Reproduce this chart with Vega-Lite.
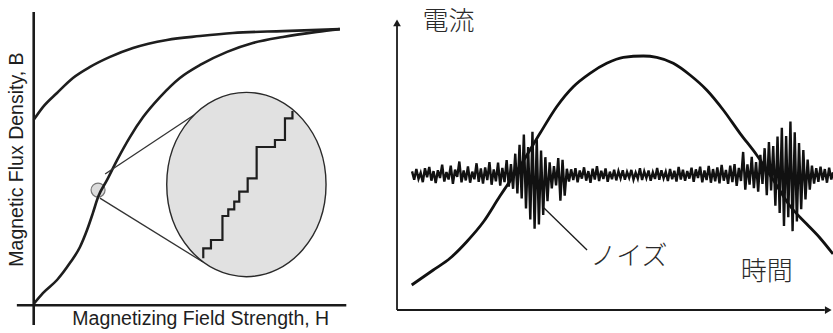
{
  "$schema": "https://vega.github.io/schema/vega-lite/v6.json",
  "background": "white",
  "padding": 0,
  "spacing": 10,
  "config": {"view": {"stroke": null}},
  "datasets": {
    "leftAxes": [
      {"h": 0, "b": -7.1, "h2": 0, "b2": 105.7},
      {"h": -5.5, "b": 0, "h2": 102, "b2": 0}
    ],
    "zoomLines": [
      {"h": 23.3, "b": 47.3, "h2": 53.3, "b2": 69.3},
      {"h": 21.6, "b": 38.6, "h2": 55.2, "b2": 15.6}
    ],
    "smallCircle": [{"h": 21.0, "b": 41.5}],
    "ellipse": [{"h": 69.4, "b": 43.5}],
    "bh": [
      {"curve": "upper", "i": 0, "h": 0, "b": 66.8},
      {"curve": "upper", "i": 1, "h": 3.0, "b": 71.4},
      {"curve": "upper", "i": 2, "h": 7.6, "b": 76.5},
      {"curve": "upper", "i": 3, "h": 12.8, "b": 81.9},
      {"curve": "upper", "i": 4, "h": 18.4, "b": 85.9},
      {"curve": "upper", "i": 5, "h": 24.9, "b": 89.5},
      {"curve": "upper", "i": 6, "h": 32.4, "b": 92.7},
      {"curve": "upper", "i": 7, "h": 43.5, "b": 95.6},
      {"curve": "upper", "i": 8, "h": 54.3, "b": 97.0},
      {"curve": "upper", "i": 9, "h": 65.0, "b": 98.1},
      {"curve": "upper", "i": 10, "h": 81.3, "b": 98.8},
      {"curve": "upper", "i": 11, "h": 99.9, "b": 99.5},
      {"curve": "lower", "i": 0, "h": 0, "b": 0.5},
      {"curve": "lower", "i": 1, "h": 3.0, "b": 4.4},
      {"curve": "lower", "i": 2, "h": 7.6, "b": 9.1},
      {"curve": "lower", "i": 3, "h": 11.8, "b": 15.2},
      {"curve": "lower", "i": 4, "h": 15.1, "b": 21.0},
      {"curve": "lower", "i": 5, "h": 17.4, "b": 27.1},
      {"curve": "lower", "i": 6, "h": 19.3, "b": 33.2},
      {"curve": "lower", "i": 7, "h": 21.0, "b": 39.0},
      {"curve": "lower", "i": 8, "h": 23.9, "b": 45.1},
      {"curve": "lower", "i": 9, "h": 27.2, "b": 52.3},
      {"curve": "lower", "i": 10, "h": 31.4, "b": 60.6},
      {"curve": "lower", "i": 11, "h": 35.7, "b": 67.8},
      {"curve": "lower", "i": 12, "h": 41.2, "b": 75.0},
      {"curve": "lower", "i": 13, "h": 47.7, "b": 81.9},
      {"curve": "lower", "i": 14, "h": 54.3, "b": 86.6},
      {"curve": "lower", "i": 15, "h": 63.1, "b": 91.3},
      {"curve": "lower", "i": 16, "h": 71.5, "b": 94.5},
      {"curve": "lower", "i": 17, "h": 81.3, "b": 96.7},
      {"curve": "lower", "i": 18, "h": 92.4, "b": 98.5},
      {"curve": "lower", "i": 19, "h": 99.9, "b": 99.5}
    ],
    "stairs": [
      {"i": 0, "h": 55.33, "b": 16.92},
      {"i": 1, "h": 55.33, "b": 20.52},
      {"i": 2, "h": 57.84, "b": 20.52},
      {"i": 3, "h": 57.84, "b": 23.51},
      {"i": 4, "h": 61.59, "b": 23.51},
      {"i": 5, "h": 61.59, "b": 32.16},
      {"i": 6, "h": 63.49, "b": 32.16},
      {"i": 7, "h": 63.49, "b": 34.58},
      {"i": 8, "h": 65.44, "b": 34.58},
      {"i": 9, "h": 65.44, "b": 37.32},
      {"i": 10, "h": 67.07, "b": 37.32},
      {"i": 11, "h": 67.07, "b": 40.92},
      {"i": 12, "h": 69.82, "b": 40.92},
      {"i": 13, "h": 69.82, "b": 45.75},
      {"i": 14, "h": 72.75, "b": 45.75},
      {"i": 15, "h": 72.75, "b": 57.03},
      {"i": 16, "h": 78.72, "b": 57.03},
      {"i": 17, "h": 78.72, "b": 59.55},
      {"i": 18, "h": 81.99, "b": 59.55},
      {"i": 19, "h": 81.99, "b": 67.37},
      {"i": 20, "h": 84.43, "b": 67.37},
      {"i": 21, "h": 84.43, "b": 70.0}
    ],
    "leftLabels": [
      {"axis": "H", "label": "Magnetizing Field Strength, H", "h": 54.5, "b": -5.0},
      {"axis": "B", "label": "Magnetic Flux Density, B", "h": -5.4, "b": 52.5}
    ],
    "rightAxes": [
      {"t": 0, "i": 0, "t2": 0, "i2": 98.5},
      {"t": 0, "i": 0, "t2": 99.5, "i2": 0}
    ],
    "arrowUp": [{"t": 0, "i": 99.0}],
    "arrowRight": [{"t": 100.3, "i": 0}],
    "current": [
      {"t": 3.42, "i": 8.62},
      {"t": 8.44, "i": 13.79},
      {"t": 12.33, "i": 17.83},
      {"t": 16.21, "i": 23.55},
      {"t": 20.07, "i": 30.34},
      {"t": 23.95, "i": 39.31},
      {"t": 25.51, "i": 42.76},
      {"t": 29.37, "i": 51.38},
      {"t": 33.26, "i": 60.93},
      {"t": 37.14, "i": 70.1},
      {"t": 41.0, "i": 77.0},
      {"t": 44.88, "i": 81.62},
      {"t": 48.77, "i": 85.07},
      {"t": 52.63, "i": 87.14},
      {"t": 57.28, "i": 87.59},
      {"t": 60.4, "i": 87.14},
      {"t": 64.26, "i": 85.07},
      {"t": 68.14, "i": 81.03},
      {"t": 72.02, "i": 75.86},
      {"t": 75.88, "i": 68.97},
      {"t": 79.77, "i": 60.93},
      {"t": 83.65, "i": 53.45},
      {"t": 87.51, "i": 44.83},
      {"t": 91.4, "i": 35.86},
      {"t": 95.28, "i": 29.66},
      {"t": 98.37, "i": 24.83},
      {"t": 101.4, "i": 19.31}
    ],
    "noise": [
      {"t": 3.5, "i": 47.8}, {"t": 4.0, "i": 44.9}, {"t": 4.5, "i": 48.6}, {"t": 5.0, "i": 45.2},
      {"t": 5.5, "i": 47.3}, {"t": 6.0, "i": 44.1}, {"t": 6.5, "i": 48.9}, {"t": 7.0, "i": 45.8},
      {"t": 7.5, "i": 49.3}, {"t": 8.0, "i": 44.6}, {"t": 8.5, "i": 47.9}, {"t": 9.0, "i": 43.8},
      {"t": 9.5, "i": 48.2}, {"t": 10.0, "i": 45.5}, {"t": 10.5, "i": 50.1}, {"t": 11.0, "i": 44.3},
      {"t": 11.5, "i": 47.6}, {"t": 12.0, "i": 45.0}, {"t": 12.5, "i": 49.8}, {"t": 13.0, "i": 43.5},
      {"t": 13.5, "i": 48.4}, {"t": 14.0, "i": 45.9}, {"t": 14.5, "i": 51.2}, {"t": 15.0, "i": 44.0},
      {"t": 15.5, "i": 48.1}, {"t": 16.0, "i": 44.7}, {"t": 16.5, "i": 49.5}, {"t": 17.0, "i": 43.9},
      {"t": 17.5, "i": 47.7}, {"t": 18.0, "i": 45.1}, {"t": 18.5, "i": 50.6}, {"t": 19.0, "i": 44.2},
      {"t": 19.5, "i": 48.8}, {"t": 20.0, "i": 43.6}, {"t": 20.5, "i": 49.2}, {"t": 21.0, "i": 44.8},
      {"t": 21.5, "i": 51.0}, {"t": 22.0, "i": 43.2}, {"t": 22.5, "i": 48.5}, {"t": 23.0, "i": 44.4},
      {"t": 23.5, "i": 50.8}, {"t": 24.0, "i": 42.9}, {"t": 24.5, "i": 49.0}, {"t": 25.0, "i": 44.1},
      {"t": 25.5, "i": 51.7}, {"t": 26.0, "i": 42.5}, {"t": 26.5, "i": 50.3}, {"t": 27.0, "i": 41.8},
      {"t": 27.5, "i": 53.9}, {"t": 28.0, "i": 40.2}, {"t": 28.5, "i": 57.0}, {"t": 29.0, "i": 38.5},
      {"t": 29.5, "i": 60.5}, {"t": 30.0, "i": 35.0}, {"t": 30.5, "i": 56.2}, {"t": 31.0, "i": 31.2},
      {"t": 31.5, "i": 61.5}, {"t": 32.0, "i": 28.0}, {"t": 32.5, "i": 58.8}, {"t": 33.0, "i": 29.5},
      {"t": 33.5, "i": 55.0}, {"t": 34.0, "i": 32.8}, {"t": 34.5, "i": 52.7}, {"t": 35.0, "i": 37.5},
      {"t": 35.5, "i": 50.9}, {"t": 36.0, "i": 41.9}, {"t": 36.5, "i": 49.6}, {"t": 37.0, "i": 43.0},
      {"t": 37.5, "i": 52.4}, {"t": 38.0, "i": 37.7}, {"t": 38.5, "i": 51.8}, {"t": 39.0, "i": 39.4},
      {"t": 39.5, "i": 48.7}, {"t": 40.0, "i": 44.3}, {"t": 40.5, "i": 48.5}, {"t": 41.0, "i": 44.8},
      {"t": 41.5, "i": 48.9}, {"t": 42.0, "i": 44.0}, {"t": 42.5, "i": 48.1}, {"t": 43.0, "i": 45.3},
      {"t": 43.5, "i": 49.2}, {"t": 44.0, "i": 44.6}, {"t": 44.5, "i": 47.9}, {"t": 45.0, "i": 43.9},
      {"t": 45.5, "i": 48.7}, {"t": 46.0, "i": 45.0}, {"t": 46.5, "i": 49.6}, {"t": 47.0, "i": 44.5},
      {"t": 47.5, "i": 48.0}, {"t": 48.0, "i": 45.2}, {"t": 48.5, "i": 48.8}, {"t": 49.0, "i": 44.2},
      {"t": 49.5, "i": 47.7}, {"t": 50.0, "i": 45.1}, {"t": 50.5, "i": 48.4}, {"t": 51.0, "i": 44.7},
      {"t": 51.5, "i": 47.9}, {"t": 52.0, "i": 45.4}, {"t": 52.5, "i": 48.2}, {"t": 53.0, "i": 44.9},
      {"t": 53.5, "i": 47.6}, {"t": 54.0, "i": 45.6}, {"t": 54.5, "i": 48.3}, {"t": 55.0, "i": 45.0},
      {"t": 55.5, "i": 47.4}, {"t": 56.0, "i": 45.3}, {"t": 56.5, "i": 48.9}, {"t": 57.0, "i": 44.8},
      {"t": 57.5, "i": 47.8}, {"t": 58.0, "i": 45.5}, {"t": 58.5, "i": 48.1}, {"t": 59.0, "i": 44.6},
      {"t": 59.5, "i": 47.5}, {"t": 60.0, "i": 45.2}, {"t": 60.5, "i": 49.0}, {"t": 61.0, "i": 44.9},
      {"t": 61.5, "i": 48.2}, {"t": 62.0, "i": 45.4}, {"t": 62.5, "i": 47.7}, {"t": 63.0, "i": 44.5},
      {"t": 63.5, "i": 48.6}, {"t": 64.0, "i": 45.1}, {"t": 64.5, "i": 48.0}, {"t": 65.0, "i": 44.3},
      {"t": 65.5, "i": 49.3}, {"t": 66.0, "i": 45.0}, {"t": 66.5, "i": 48.4}, {"t": 67.0, "i": 44.6},
      {"t": 67.5, "i": 47.9}, {"t": 68.0, "i": 45.3}, {"t": 68.5, "i": 49.1}, {"t": 69.0, "i": 44.2},
      {"t": 69.5, "i": 48.5}, {"t": 70.0, "i": 45.5}, {"t": 70.5, "i": 49.4}, {"t": 71.0, "i": 44.0},
      {"t": 71.5, "i": 48.1}, {"t": 72.0, "i": 44.8}, {"t": 72.5, "i": 49.7}, {"t": 73.0, "i": 43.9},
      {"t": 73.5, "i": 48.6}, {"t": 74.0, "i": 44.4}, {"t": 74.5, "i": 49.2}, {"t": 75.0, "i": 43.7},
      {"t": 75.5, "i": 50.0}, {"t": 76.0, "i": 44.6}, {"t": 76.5, "i": 48.3}, {"t": 77.0, "i": 43.5},
      {"t": 77.5, "i": 49.8}, {"t": 78.0, "i": 44.1}, {"t": 78.5, "i": 50.3}, {"t": 79.0, "i": 42.8},
      {"t": 79.5, "i": 49.0}, {"t": 80.0, "i": 44.5}, {"t": 80.5, "i": 54.5}, {"t": 81.0, "i": 41.5},
      {"t": 81.5, "i": 50.2}, {"t": 82.0, "i": 43.2}, {"t": 82.5, "i": 52.8}, {"t": 83.0, "i": 42.0},
      {"t": 83.5, "i": 51.0}, {"t": 84.0, "i": 40.8}, {"t": 84.5, "i": 53.5}, {"t": 85.0, "i": 43.5},
      {"t": 85.5, "i": 55.8}, {"t": 86.0, "i": 39.6}, {"t": 86.5, "i": 57.9}, {"t": 87.0, "i": 41.2},
      {"t": 87.5, "i": 56.5}, {"t": 88.0, "i": 36.0}, {"t": 88.5, "i": 59.8}, {"t": 89.0, "i": 33.5},
      {"t": 89.5, "i": 62.8}, {"t": 90.0, "i": 29.0}, {"t": 90.5, "i": 60.0}, {"t": 91.0, "i": 32.0},
      {"t": 91.5, "i": 65.0}, {"t": 92.0, "i": 27.2}, {"t": 92.5, "i": 61.3}, {"t": 93.0, "i": 30.5},
      {"t": 93.5, "i": 57.6}, {"t": 94.0, "i": 34.8}, {"t": 94.5, "i": 55.2}, {"t": 95.0, "i": 38.1},
      {"t": 95.5, "i": 51.9}, {"t": 96.0, "i": 41.5}, {"t": 96.5, "i": 49.8}, {"t": 97.0, "i": 43.6},
      {"t": 97.5, "i": 48.9}, {"t": 98.0, "i": 44.2}, {"t": 98.5, "i": 49.4}, {"t": 99.0, "i": 44.7},
      {"t": 99.5, "i": 48.6}, {"t": 100.0, "i": 43.9}, {"t": 100.5, "i": 49.1}, {"t": 101.0, "i": 45.0},
      {"t": 101.4, "i": 47.5}
    ],
    "leader": [{"t": 33.95, "i": 35.5, "t2": 44.2, "i2": 20.7}],
    "rightLabels": [
      {"label": "電流", "t": 11.98, "i": 99.3},
      {"label": "ノイズ", "t": 53.95, "i": 18.3},
      {"label": "時間", "t": 85.98, "i": 13.1}
    ]
  },
  "hconcat": [
    {
      "width": 380,
      "height": 333,
      "layer": [
        {
          "data": {"name": "smallCircle"},
          "mark": {"type": "point", "shape": "circle", "size": 196, "filled": true, "fill": "#dcdcdc", "stroke": "#777777", "strokeWidth": 1.2, "opacity": 1},
          "encoding": {
            "x": {"field": "h", "type": "quantitative", "scale": {"domain": [-11, 113], "nice": false, "zero": false}, "axis": null},
            "y": {"field": "b", "type": "quantitative", "scale": {"domain": [-10, 110], "nice": false, "zero": false}, "axis": null}
          }
        },
        {
          "data": {"name": "leftAxes"},
          "mark": {"type": "rule", "color": "#1a1a1a", "strokeWidth": 2.6},
          "encoding": {
            "x": {"field": "h", "type": "quantitative", "scale": {"domain": [-11, 113], "nice": false, "zero": false}, "axis": null},
            "y": {"field": "b", "type": "quantitative", "scale": {"domain": [-10, 110], "nice": false, "zero": false}, "axis": null},
            "x2": {"field": "h2"},
            "y2": {"field": "b2"}
          }
        },
        {
          "data": {"name": "bh"},
          "mark": {"type": "line", "interpolate": "monotone", "color": "#1e1e1e", "strokeWidth": 2.6},
          "encoding": {
            "x": {"field": "h", "type": "quantitative", "scale": {"domain": [-11, 113], "nice": false, "zero": false}, "axis": null},
            "y": {"field": "b", "type": "quantitative", "scale": {"domain": [-10, 110], "nice": false, "zero": false}, "axis": null},
            "detail": {"field": "curve", "type": "nominal"},
            "order": {"field": "i", "type": "quantitative"}
          }
        },
        {
          "data": {"name": "zoomLines"},
          "mark": {"type": "rule", "color": "#333333", "strokeWidth": 1.3},
          "encoding": {
            "x": {"field": "h", "type": "quantitative", "scale": {"domain": [-11, 113], "nice": false, "zero": false}, "axis": null},
            "y": {"field": "b", "type": "quantitative", "scale": {"domain": [-10, 110], "nice": false, "zero": false}, "axis": null},
            "x2": {"field": "h2"},
            "y2": {"field": "b2"}
          }
        },
        {
          "data": {"name": "ellipse"},
          "mark": {"type": "point", "shape": "M0.864,0C0.864,0.552,0.477,1,0,1C-0.477,1,-0.864,0.552,-0.864,0C-0.864,-0.552,-0.477,-1,0,-1C0.477,-1,0.864,-0.552,0.864,0Z", "size": 34000, "filled": true, "fill": "#e1e1e1", "stroke": "#2a2a2a", "strokeWidth": 1.4, "opacity": 1},
          "encoding": {
            "x": {"field": "h", "type": "quantitative", "scale": {"domain": [-11, 113], "nice": false, "zero": false}, "axis": null},
            "y": {"field": "b", "type": "quantitative", "scale": {"domain": [-10, 110], "nice": false, "zero": false}, "axis": null}
          }
        },
        {
          "data": {"name": "stairs"},
          "mark": {"type": "line", "interpolate": "linear", "color": "#1e1e1e", "strokeWidth": 2.2},
          "encoding": {
            "x": {"field": "h", "type": "quantitative", "scale": {"domain": [-11, 113], "nice": false, "zero": false}, "axis": null},
            "y": {"field": "b", "type": "quantitative", "scale": {"domain": [-10, 110], "nice": false, "zero": false}, "axis": null},
            "order": {"field": "i", "type": "quantitative"}
          }
        },
        {
          "data": {"name": "leftLabels"},
          "transform": [{"filter": "datum.axis == 'H'"}],
          "mark": {"type": "text", "font": "Liberation Sans", "fontSize": 19.5, "color": "#1e1e1e", "align": "center", "baseline": "middle"},
          "encoding": {
            "x": {"field": "h", "type": "quantitative", "scale": {"domain": [-11, 113], "nice": false, "zero": false}, "axis": null},
            "y": {"field": "b", "type": "quantitative", "scale": {"domain": [-10, 110], "nice": false, "zero": false}, "axis": null},
            "text": {"field": "label"}
          }
        },
        {
          "data": {"name": "leftLabels"},
          "transform": [{"filter": "datum.axis == 'B'"}],
          "mark": {"type": "text", "font": "Liberation Sans", "fontSize": 19.5, "color": "#1e1e1e", "align": "center", "baseline": "middle", "angle": 270},
          "encoding": {
            "x": {"field": "h", "type": "quantitative", "scale": {"domain": [-11, 113], "nice": false, "zero": false}, "axis": null},
            "y": {"field": "b", "type": "quantitative", "scale": {"domain": [-10, 110], "nice": false, "zero": false}, "axis": null},
            "text": {"field": "label"}
          }
        }
      ]
    },
    {
      "width": 443,
      "height": 333,
      "layer": [
        {
          "data": {"name": "rightAxes"},
          "mark": {"type": "rule", "color": "#1a1a1a", "strokeWidth": 1.8},
          "encoding": {
            "x": {"field": "t", "type": "quantitative", "scale": {"domain": [-1.63, 101.4], "nice": false, "zero": false}, "axis": null},
            "y": {"field": "i", "type": "quantitative", "scale": {"domain": [-7.93, 106.9], "nice": false, "zero": false}, "axis": null},
            "x2": {"field": "t2"},
            "y2": {"field": "i2"}
          }
        },
        {
          "data": {"name": "arrowUp"},
          "mark": {"type": "point", "shape": "triangle-up", "size": 60, "filled": true, "color": "#1a1a1a", "opacity": 1},
          "encoding": {
            "x": {"field": "t", "type": "quantitative", "scale": {"domain": [-1.63, 101.4], "nice": false, "zero": false}, "axis": null},
            "y": {"field": "i", "type": "quantitative", "scale": {"domain": [-7.93, 106.9], "nice": false, "zero": false}, "axis": null}
          }
        },
        {
          "data": {"name": "arrowRight"},
          "mark": {"type": "point", "shape": "triangle-right", "size": 60, "filled": true, "color": "#1a1a1a", "opacity": 1},
          "encoding": {
            "x": {"field": "t", "type": "quantitative", "scale": {"domain": [-1.63, 101.4], "nice": false, "zero": false}, "axis": null},
            "y": {"field": "i", "type": "quantitative", "scale": {"domain": [-7.93, 106.9], "nice": false, "zero": false}, "axis": null}
          }
        },
        {
          "data": {"name": "current"},
          "mark": {"type": "line", "interpolate": "monotone", "color": "#111111", "strokeWidth": 2.8},
          "encoding": {
            "x": {"field": "t", "type": "quantitative", "scale": {"domain": [-1.63, 101.4], "nice": false, "zero": false}, "axis": null},
            "y": {"field": "i", "type": "quantitative", "scale": {"domain": [-7.93, 106.9], "nice": false, "zero": false}, "axis": null}
          }
        },
        {
          "data": {"name": "noise"},
          "mark": {"type": "line", "interpolate": "linear", "color": "#111111", "strokeWidth": 2.4},
          "encoding": {
            "x": {"field": "t", "type": "quantitative", "scale": {"domain": [-1.63, 101.4], "nice": false, "zero": false}, "axis": null},
            "y": {"field": "i", "type": "quantitative", "scale": {"domain": [-7.93, 106.9], "nice": false, "zero": false}, "axis": null}
          }
        },
        {
          "data": {"name": "leader"},
          "mark": {"type": "rule", "color": "#1a1a1a", "strokeWidth": 1.3},
          "encoding": {
            "x": {"field": "t", "type": "quantitative", "scale": {"domain": [-1.63, 101.4], "nice": false, "zero": false}, "axis": null},
            "y": {"field": "i", "type": "quantitative", "scale": {"domain": [-7.93, 106.9], "nice": false, "zero": false}, "axis": null},
            "x2": {"field": "t2"},
            "y2": {"field": "i2"}
          }
        },
        {
          "data": {"name": "rightLabels"},
          "mark": {"type": "text", "font": "Noto Sans CJK JP", "fontSize": 26, "fontWeight": 300, "color": "#2a2a2a", "align": "center", "baseline": "middle"},
          "encoding": {
            "x": {"field": "t", "type": "quantitative", "scale": {"domain": [-1.63, 101.4], "nice": false, "zero": false}, "axis": null},
            "y": {"field": "i", "type": "quantitative", "scale": {"domain": [-7.93, 106.9], "nice": false, "zero": false}, "axis": null},
            "text": {"field": "label"}
          }
        }
      ]
    }
  ]
}
